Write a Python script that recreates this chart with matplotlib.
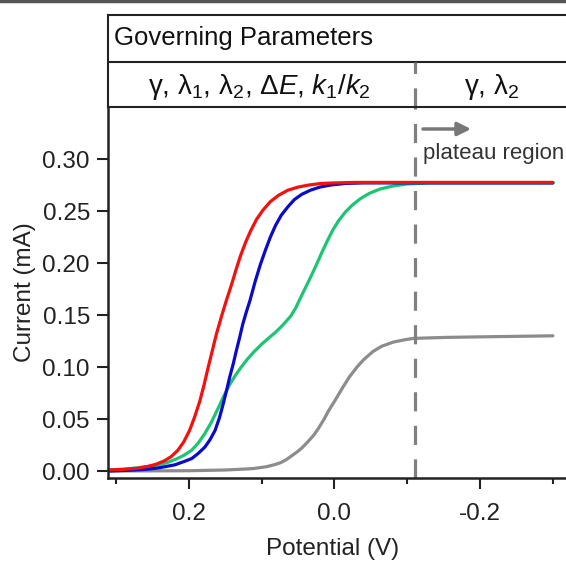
"""Limiting current curves with a governing-parameter header."""

import matplotlib

matplotlib.use("Agg")
import matplotlib.pyplot as plt
from matplotlib.ticker import MultipleLocator

plt.rcParams["font.family"] = ["Liberation Sans", "DejaVu Sans"]
plt.rcParams["mathtext.fontset"] = "custom"
plt.rcParams["mathtext.rm"] = "Liberation Sans"
plt.rcParams["mathtext.it"] = "Liberation Sans:italic"

# potential (V) and current (mA)
red_v = [0.311, 0.29, 0.27, 0.256, 0.245, 0.233, 0.224, 0.215, 0.207, 0.199,
         0.192, 0.185, 0.179, 0.174, 0.168, 0.162, 0.155, 0.148, 0.141, 0.135,
         0.129, 0.122, 0.115, 0.107, 0.098, 0.088, 0.077, 0.064, 0.050, 0.035,
         0.018, 0.0, -0.03, -0.10, -0.30]
red_i = [0.001, 0.0015, 0.0028, 0.0045, 0.0065, 0.010, 0.014, 0.020, 0.028, 0.039,
         0.052, 0.067, 0.083, 0.098, 0.115, 0.132, 0.149, 0.165, 0.180, 0.194,
         0.207, 0.220, 0.231, 0.242, 0.251, 0.259, 0.265, 0.270, 0.273, 0.275,
         0.2765, 0.277, 0.2775, 0.2775, 0.2775]

blue_v = [0.311, 0.28, 0.26, 0.242, 0.23, 0.219, 0.207, 0.196, 0.187, 0.178,
          0.171, 0.164, 0.158, 0.153, 0.148, 0.144, 0.139, 0.135, 0.130, 0.126,
          0.121, 0.116, 0.109, 0.102, 0.095, 0.088, 0.081, 0.073, 0.064, 0.055,
          0.045, 0.033, 0.020, 0.005, -0.015, -0.04, -0.10, -0.30]
blue_i = [0.000, 0.0008, 0.0015, 0.003, 0.0045, 0.006, 0.009, 0.012, 0.017, 0.023,
          0.030, 0.039, 0.051, 0.064, 0.078, 0.090, 0.103, 0.115, 0.129, 0.141,
          0.153, 0.164, 0.182, 0.198, 0.212, 0.225, 0.236, 0.246, 0.254, 0.261,
          0.266, 0.270, 0.273, 0.275, 0.2765, 0.277, 0.277, 0.277]

green_v = [0.311, 0.29, 0.27, 0.255, 0.242, 0.23, 0.219, 0.207, 0.196, 0.187,
           0.178, 0.169, 0.160, 0.152, 0.144, 0.136, 0.128, 0.119, 0.110, 0.100,
           0.090, 0.080, 0.070, 0.060, 0.053, 0.047, 0.040, 0.033, 0.025, 0.018,
           0.010, 0.002, -0.006, -0.015, -0.025, -0.036, -0.048, -0.062, -0.080,
           -0.10, -0.13, -0.20, -0.30]
green_i = [0.001, 0.0018, 0.003, 0.0045, 0.006, 0.008, 0.011, 0.015, 0.020, 0.027,
           0.036, 0.047, 0.060, 0.072, 0.083, 0.092, 0.100, 0.108, 0.115, 0.122,
           0.128, 0.134, 0.141, 0.149, 0.157, 0.166, 0.176, 0.186, 0.198, 0.209,
           0.221, 0.232, 0.241, 0.249, 0.256, 0.262, 0.267, 0.271, 0.274,
           0.276, 0.277, 0.277, 0.277]

gray_v = [0.311, 0.20, 0.15, 0.12, 0.11, 0.093, 0.083, 0.074, 0.066, 0.060,
          0.052, 0.045, 0.038, 0.029, 0.022, 0.015, 0.008, 0.0, -0.006, -0.012,
          -0.020, -0.031, -0.040, -0.053, -0.065, -0.081, -0.095, -0.108, -0.13,
          -0.154, -0.20, -0.30]
gray_i = [0.000, 0.0003, 0.001, 0.002, 0.0025, 0.0042, 0.006, 0.008, 0.011, 0.014,
          0.018, 0.022, 0.027, 0.034, 0.041, 0.049, 0.058, 0.067, 0.074, 0.081,
          0.090, 0.100, 0.107, 0.115, 0.120, 0.124, 0.126, 0.1275, 0.128,
          0.1285, 0.129, 0.130]

plateau_start = -0.111
x_major = [0.2, 0.0, -0.2]
y_ticks = [0.00, 0.05, 0.10, 0.15, 0.20, 0.25, 0.30]

W, H = 566, 563
FS = 17.5


def fx(px):
    return px / W


def fy(py):
    return 1 - py / H


fig = plt.figure(figsize=(W / 100, H / 100), dpi=100)

ax = fig.add_axes([fx(108), fy(478), fx(566 - 108), (478 - 107) / H])
ax.plot(gray_v, gray_i, color="#8c8c8c", lw=2.3, solid_capstyle="round")
ax.plot(green_v, green_i, color="#1dc474", lw=2.3, solid_capstyle="round")
ax.plot(blue_v, blue_i, color="#0a0ac8", lw=2.3, solid_capstyle="round")
ax.plot(red_v, red_i, color="#f21010", lw=2.3, solid_capstyle="round")
ax.axvline(plateau_start, color="#808080", lw=2.3, dashes=(6, 4.5))

ax.set_xlim(0.311, -0.318)
ax.set_ylim(-0.0067, 0.35)
ax.set_xticks(x_major)
ax.set_xticklabels([f"{v:.1f}" for v in x_major])
ax.xaxis.set_minor_locator(MultipleLocator(0.1))
ax.set_yticks(y_ticks)
ax.set_yticklabels([f"{v:.2f}" for v in y_ticks])
ax.tick_params(axis="both", which="major", labelsize=FS, width=1.5, length=8,
               colors="#222222")
ax.tick_params(axis="y", pad=5)
ax.tick_params(axis="x", pad=10)
ax.tick_params(axis="x", which="minor", width=1.5, length=4.5, colors="#222222")
for side in ("top", "right"):
    ax.spines[side].set_visible(False)
for side in ("left", "bottom"):
    ax.spines[side].set_linewidth(1.8)
    ax.spines[side].set_color("#222222")

# header table
hx = fig.add_axes([fx(108), fy(107), fx(566 - 108), (107 - 15) / H])
hx.set_xlim(ax.get_xlim())
hx.set_ylim(0, 1)
hx.set_xticks([])
hx.set_yticks([])
hx.spines["right"].set_visible(False)
for side in ("left", "top", "bottom"):
    hx.spines[side].set_linewidth(1.5)
    hx.spines[side].set_color("#222222")
sep = (107 - 62) / 92
hx.axhline(sep, color="#222222", lw=1.5)
hx.axvline(plateau_start, ymin=0, ymax=sep, color="#808080", lw=2.3, dashes=(6, 4.5))

fig.text(fx(114), fy(38), "Governing Parameters", fontsize=18.5, va="center",
         color="#111111")
fig.text(fx(259), fy(87), "γ, λ$_1$, λ$_2$, Δ$E$, $k_1$/$k_2$", fontsize=20,
         ha="center", va="center", color="#111111")
fig.text(fx(492), fy(87), "γ, λ$_2$", fontsize=20, ha="center", va="center",
         color="#111111")

fig.text(fx(423), fy(154), "plateau region", fontsize=16, va="center",
         color="#333333")
ax.annotate("", xy=(fx(471), fy(129)), xytext=(fx(423), fy(129)),
            xycoords="figure fraction", textcoords="figure fraction",
            arrowprops=dict(arrowstyle="-|>", color="#777777", lw=2.5,
                            mutation_scale=20, shrinkA=0, shrinkB=0))

fig.text(fx(25), fy(292), "Current (mA)", fontsize=FS, rotation=90,
         ha="center", va="center", color="#222222")
fig.text(fx(333), fy(549), "Potential (V)", fontsize=FS, ha="center",
         va="center", color="#222222")

# thin frame edge along the top of the crop
fig.add_artist(plt.Line2D([0, 1], [fy(1), fy(1)], color="#555555", lw=2.5))

fig.savefig("out.png", dpi=100)
